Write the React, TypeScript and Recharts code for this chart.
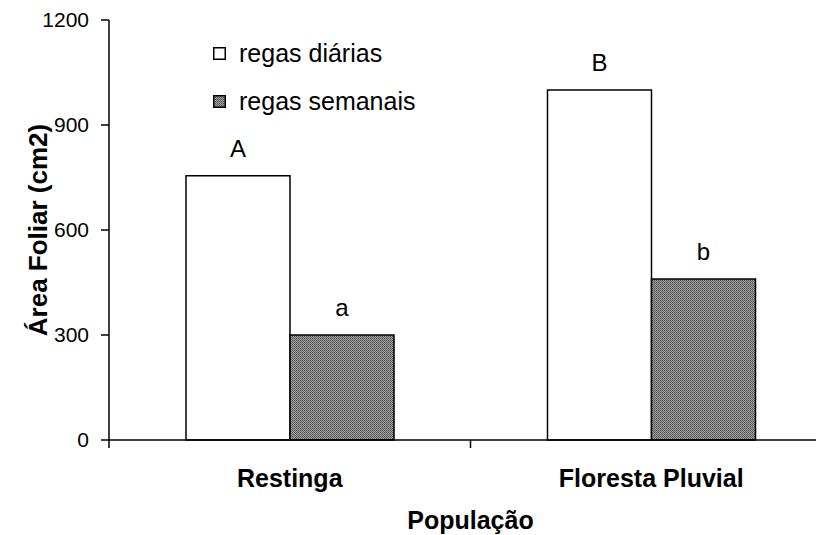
import { BarChart, Bar, XAxis, YAxis, LabelList } from 'recharts';

const populations = ['Restinga', 'Floresta Pluvial'];
const dailyWatering = [755, 1000];
const weeklyWatering = [300, 460];
const dailyLetters = ['A', 'B'];
const weeklyLetters = ['a', 'b'];
const yTicks = [0, 300, 600, 900, 1200];
const seriesNames = ['regas diárias', 'regas semanais'];

const data = populations.map((name, i) => ({
  name,
  diarias: dailyWatering[i],
  semanais: weeklyWatering[i],
  letterD: dailyLetters[i],
  letterS: weeklyLetters[i],
}));

const font = 'Liberation Sans, Arial, sans-serif';

function DotPattern({ id }: { id: string }) {
  return (
    <pattern id={id} width={2} height={2} patternUnits="userSpaceOnUse">
      <rect width={2} height={2} fill="#a0a0a0" />
      <rect width={1} height={1} fill="#505050" />
      <rect x={1} y={1} width={1} height={1} fill="#666" />
    </pattern>
  );
}

// category labels plus the boundary ticks between categories
function CategoryTick(props: any) {
  const { x, y, payload, index } = props;
  const half = payload.offset || 0;
  return (
    <g>
      <line x1={x - half} x2={x - half} y1={y} y2={y + 8} stroke="#000" strokeWidth={1.5} />
      {index === populations.length - 1 && (
        <line x1={x + half} x2={x + half} y1={y} y2={y + 8} stroke="#000" strokeWidth={1.5} />
      )}
      <text x={x} y={y + 47} textAnchor="middle" fontWeight="bold" fontSize={25} fill="#000" fontFamily={font}>
        {payload.value}
      </text>
    </g>
  );
}

function LegendBox() {
  return (
    <div style={{ position: 'absolute', left: 205, top: 21, fontFamily: font, fontSize: 25, color: '#000' }}>
      {seriesNames.map((label, i) => (
        <div key={label} style={{ height: 48, display: 'flex', alignItems: 'center' }}>
          <svg width={13} height={13} style={{ marginRight: 13 }}>
            <defs>
              <DotPattern id={`lg${i}`} />
            </defs>
            <rect x={0.75} y={0.75} width={11.5} height={11.5} fill={i === 0 ? '#fff' : `url(#lg${i})`} stroke="#000" strokeWidth={1.5} />
          </svg>
          <span>{label}</span>
        </div>
      ))}
    </div>
  );
}

export default function App() {
  return (
    <div style={{ position: 'relative', width: 816, height: 527, overflow: 'hidden' }}>
      <BarChart
        width={824}
        height={527}
        data={data}
        margin={{ top: 12, right: 0, bottom: 0, left: 0 }}
        barCategoryGap={77}
        barGap={0}
      >
        <defs>
          <DotPattern id="dots" />
        </defs>
        <XAxis
          dataKey="name"
          height={95}
          tickLine={false}
          tickSize={0}
          tickMargin={0}
          axisLine={{ stroke: '#000', strokeWidth: 1.5 }}
          tick={<CategoryTick />}
          interval={0}
          label={{ value: 'População', position: 'insideBottom', offset: 6, fontWeight: 'bold', fontSize: 25, fill: '#000', fontFamily: font }}
        />
        <YAxis
          width={101}
          domain={[0, 1200]}
          ticks={yTicks}
          interval={0}
          tickSize={8}
          tickMargin={12}
          axisLine={{ stroke: '#000', strokeWidth: 1.5 }}
          tickLine={{ stroke: '#000', strokeWidth: 1.5 }}
          tick={{ fill: '#000', fontSize: 21, fontFamily: font }}
          label={{ value: 'Área Foliar (cm2)', angle: -90, position: 'insideLeft', offset: 30, fontWeight: 'bold', fontSize: 26, fill: '#000', fontFamily: font, style: { textAnchor: 'middle' } }}
        />
        <Bar dataKey="diarias" name={seriesNames[0]} fill="#fff" stroke="#000" strokeWidth={1.5} isAnimationActive={false}>
          <LabelList dataKey="letterD" position="top" offset={19} fill="#000" fontSize={24} fontFamily={font} />
        </Bar>
        <Bar dataKey="semanais" name={seriesNames[1]} fill="url(#dots)" stroke="#000" strokeWidth={1.5} isAnimationActive={false}>
          <LabelList dataKey="letterS" position="top" offset={19} fill="#000" fontSize={24} fontFamily={font} />
        </Bar>
      </BarChart>
      <LegendBox />
    </div>
  );
}
